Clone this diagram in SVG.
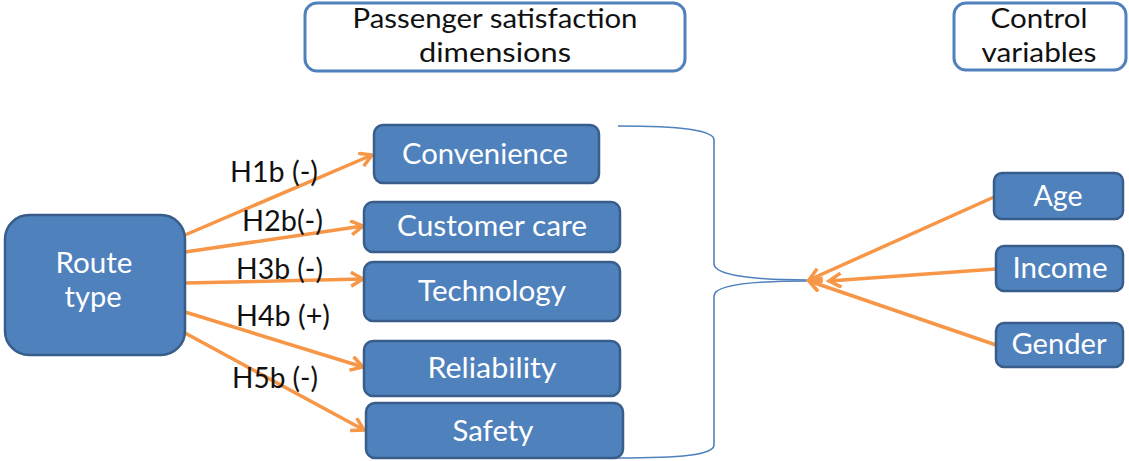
<svg xmlns="http://www.w3.org/2000/svg" width="1129" height="461" viewBox="0 0 1129 461">
  <defs>
    <style>
      text { font-family: Lato, "Open Sans", "Liberation Sans", sans-serif; font-size: 28px; }
      .node rect { fill: #4f81bd; stroke: #385d8a; stroke-width: 2.5; }
      .node text { fill: #ffffff; text-anchor: middle; }
      .title rect { fill: #ffffff; stroke: #4f81bd; stroke-width: 3; }
      .title text { fill: #111111; text-anchor: middle; font-size: 27px; }
      .arrow { stroke: #f79646; stroke-width: 3.5; fill: none; marker-end: url(#head); }
      .brace { stroke: #4f81bd; stroke-width: 1.6; fill: none; }
      .label { fill: #111111; }
    </style>
    <marker id="head" markerUnits="userSpaceOnUse" markerWidth="18" markerHeight="18" refX="14" refY="8" orient="auto">
      <path d="M2,1 L14,8 L2,15" fill="none" stroke="#f79646" stroke-width="3.5" stroke-linejoin="miter"/>
    </marker>
  </defs>

  <!-- header boxes -->
  <g id="header-dimensions" class="title">
    <rect x="305" y="3" width="380" height="68" rx="12"/>
    <text x="495" y="28" textLength="285" lengthAdjust="spacingAndGlyphs">Passenger satisfaction</text>
    <text x="495" y="62" textLength="152" lengthAdjust="spacingAndGlyphs">dimensions</text>
  </g>
  <g id="header-controls" class="title">
    <rect x="954" y="3" width="172" height="67" rx="12"/>
    <text x="1039" y="28" textLength="97" lengthAdjust="spacingAndGlyphs">Control</text>
    <text x="1039" y="62" textLength="115" lengthAdjust="spacingAndGlyphs">variables</text>
  </g>

  <!-- connectors -->
  <g id="connectors">
    <path class="brace" d="M618,126 C680,126 714,130 714,140 L714,264 C714,276 760,280 807,280"/>
    <path class="brace" d="M807,281 C760,281 714,284 714,296 L714,445 C714,455 680,458 618,458"/>

    <line class="arrow" x1="185" y1="235" x2="372" y2="155"/>
    <line class="arrow" x1="185" y1="252" x2="363" y2="226"/>
    <line class="arrow" x1="185" y1="283" x2="363" y2="279"/>
    <line class="arrow" x1="185" y1="312" x2="363" y2="367"/>
    <line class="arrow" x1="185" y1="333" x2="364" y2="430"/>

    <line class="arrow" x1="994" y1="197" x2="809" y2="280"/>
    <line class="arrow" x1="996" y1="269" x2="829" y2="281"/>
    <line class="arrow" x1="996" y1="345" x2="809" y2="281"/>

    <text class="label" x="230" y="182" textLength="88" lengthAdjust="spacingAndGlyphs">H1b (-)</text>
    <text class="label" x="242" y="231" textLength="81" lengthAdjust="spacingAndGlyphs">H2b(-)</text>
    <text class="label" x="236" y="279" textLength="87" lengthAdjust="spacingAndGlyphs">H3b (-)</text>
    <text class="label" x="236" y="326" textLength="94" lengthAdjust="spacingAndGlyphs">H4b (+)</text>
    <text class="label" x="232" y="388" textLength="86" lengthAdjust="spacingAndGlyphs">H5b (-)</text>
  </g>

  <!-- independent variable -->
  <g id="route-type" class="node">
    <rect x="5" y="215" width="180" height="140" rx="24"/>
    <text x="94" y="273" font-size="24.5" textLength="77" lengthAdjust="spacingAndGlyphs">Route</text>
    <text x="93" y="307" font-size="24.5" textLength="57" lengthAdjust="spacingAndGlyphs">type</text>
  </g>

  <!-- satisfaction dimensions -->
  <g id="convenience" class="node">
    <rect x="374" y="125" width="225" height="58" rx="9"/>
    <text x="485" y="164" textLength="166" lengthAdjust="spacingAndGlyphs">Convenience</text>
  </g>
  <g id="customer-care" class="node">
    <rect x="364" y="202" width="256" height="50" rx="9"/>
    <text x="492" y="236" textLength="190" lengthAdjust="spacingAndGlyphs">Customer care</text>
  </g>
  <g id="technology" class="node">
    <rect x="364" y="262" width="256" height="59" rx="9"/>
    <text x="492" y="301" textLength="148" lengthAdjust="spacingAndGlyphs">Technology</text>
  </g>
  <g id="reliability" class="node">
    <rect x="364" y="341" width="256" height="55" rx="9"/>
    <text x="492" y="378" textLength="129" lengthAdjust="spacingAndGlyphs">Reliability</text>
  </g>
  <g id="safety" class="node">
    <rect x="366" y="403" width="257" height="55" rx="9"/>
    <text x="493" y="441" textLength="81" lengthAdjust="spacingAndGlyphs">Safety</text>
  </g>

  <!-- control variables -->
  <g id="age" class="node">
    <rect x="994" y="173" width="129" height="46" rx="8"/>
    <text x="1058" y="206" textLength="49" lengthAdjust="spacingAndGlyphs">Age</text>
  </g>
  <g id="income" class="node">
    <rect x="996" y="246" width="127" height="45" rx="8"/>
    <text x="1060" y="278" textLength="95" lengthAdjust="spacingAndGlyphs">Income</text>
  </g>
  <g id="gender" class="node">
    <rect x="996" y="323" width="127" height="44" rx="8"/>
    <text x="1059" y="354" textLength="95" lengthAdjust="spacingAndGlyphs">Gender</text>
  </g>
</svg>
